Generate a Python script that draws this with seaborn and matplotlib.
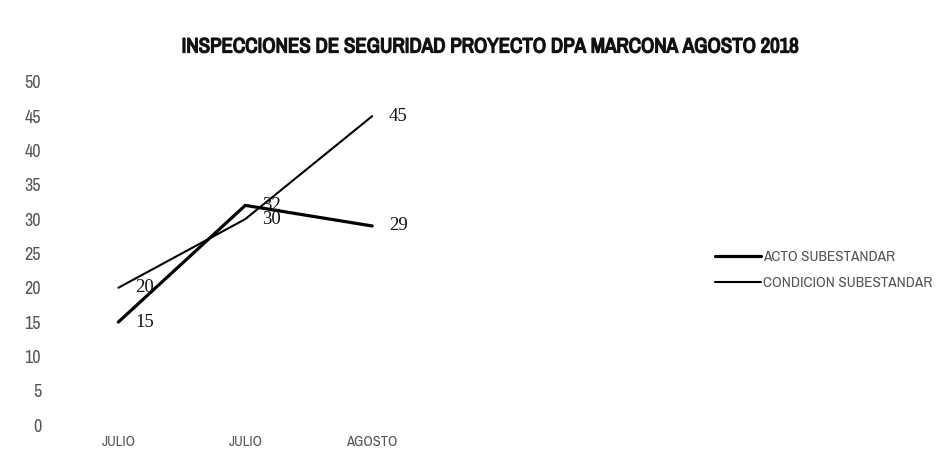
import matplotlib
matplotlib.use("Agg")
import matplotlib.pyplot as plt
import matplotlib.patheffects as pe
import seaborn as sns
import pandas as pd
from matplotlib.lines import Line2D

# Data
meses = ["JULIO", "JULIO", "AGOSTO"]
acto_subestandar = [15, 32, 29]
condicion_subestandar = [20, 30, 45]
series_names = ["ACTO SUBESTANDAR", "CONDICION SUBESTANDAR"]
y_ticks = list(range(0, 55, 5))
titulo = "INSPECCIONES DE SEGURIDAD PROYECTO DPA MARCONA AGOSTO 2018"

sns.set_theme(style="white")
narrow = ["Archivo Narrow", "DejaVu Sans"]
serif = ["Liberation Serif", "DejaVu Serif"]

df = pd.DataFrame({
    "pos": list(range(len(meses))) * 2,
    "valor": acto_subestandar + condicion_subestandar,
    "serie": [series_names[0]] * len(meses) + [series_names[1]] * len(meses),
})

fig = plt.figure(figsize=(9.47, 4.65), dpi=100)
ax = fig.add_axes([0.058, 0.086, 0.67, 0.738])

widths = {series_names[0]: 2.3, series_names[1]: 1.5}
for name in series_names:
    sub = df[df["serie"] == name]
    sns.lineplot(data=sub, x="pos", y="valor", ax=ax, color="black",
                 linewidth=widths[name], sort=False, legend=False)
    for _, r in sub.iterrows():
        ax.annotate(str(r["valor"]), (r["pos"], r["valor"]),
                    xytext=(12, 0), textcoords="offset points",
                    ha="left", va="center", fontsize=13.5,
                    family=serif, color="#111111")

ax.set_xlim(-0.5, 4.5)
ax.set_ylim(0, 50)
ax.set_yticks(y_ticks)
ax.set_yticklabels([str(v) for v in y_ticks], family=narrow,
                   fontsize=13, color="#555555")
ax.set_xticks(range(len(meses)))
ax.set_xticklabels(meses, family=narrow, fontsize=10.5, color="#555555")
ax.tick_params(axis="y", length=0, pad=10)
ax.tick_params(axis="x", length=0, pad=7)
ax.set_xlabel("")
ax.set_ylabel("")
for s in ax.spines.values():
    s.set_visible(False)

# bold narrow title (stroke thickens the narrow face)
fig.text(0.518, 0.899, titulo, ha="center", va="center",
         fontsize=15, fontweight="bold", family=narrow, color="#111111",
         path_effects=[pe.withStroke(linewidth=1.0, foreground="#111111")])

handles = [Line2D([], [], color="black", linewidth=widths[n]) for n in series_names]
leg = fig.legend(handles, series_names, loc="center left",
                 bbox_to_anchor=(0.741, 0.419), frameon=False,
                 handlelength=3.0, handletextpad=0.1, labelspacing=0.75,
                 prop={"family": narrow, "size": 11})
for t in leg.get_texts():
    t.set_color("#555555")

fig.savefig("out.png", dpi=100, facecolor="white")
